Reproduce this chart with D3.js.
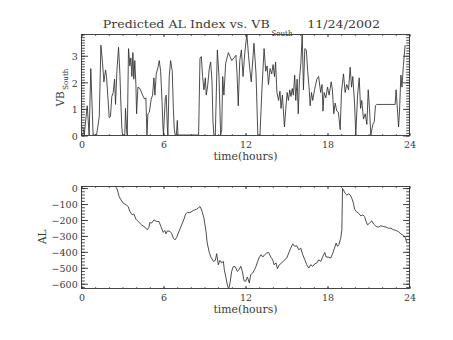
<!DOCTYPE html>
<html>
<head>
<meta charset="utf-8">
<script src="https://cdn.jsdelivr.net/npm/d3@7"></script>
<style>
  html, body { margin: 0; padding: 0; background: #fff; }
  svg { display: block; }
  text { font-family: "DejaVu Serif", "Liberation Serif", serif; fill: #3a3a3a; }
</style>
</head>
<body>
<svg id="chart" width="453" height="340"></svg>
<script>
// Solar wind driver VB_south (mV/m) and predicted AL index (nT), 24 Nov 2002
const vbTime = [0.0,0.1,0.2,0.42,0.56,0.68,0.85,1.1,1.22,1.3,1.42,1.54,1.64,1.76,1.83,1.92,2.03,2.12,2.22,2.32,2.42,2.49,2.59,2.71,2.81,2.88,2.95,3.0,3.17,3.22,3.3,3.35,3.44,3.54,3.61,3.69,3.76,3.83,3.9,3.98,4.03,4.13,4.27,4.47,4.62,4.71,4.79,4.86,4.96,5.1,5.2,5.3,5.37,5.47,5.6,5.69,5.79,5.89,5.96,6.0,6.13,6.2,6.28,6.32,6.42,6.52,6.64,6.72,6.79,6.86,6.94,7.01,7.06,8.57,8.67,8.77,8.86,8.96,9.06,9.13,9.23,9.35,9.45,9.55,9.62,9.69,9.79,9.94,10.06,10.18,10.26,10.33,10.42,10.55,10.75,10.87,11.0,11.15,11.3,11.38,11.47,11.58,11.7,11.82,11.95,12.1,12.22,12.3,12.42,12.62,12.77,12.9,13.06,13.2,13.36,13.48,13.58,13.68,13.8,13.92,14.02,14.12,14.2,14.3,14.42,14.52,14.6,14.7,14.85,14.95,15.05,15.14,15.24,15.33,15.42,15.5,15.6,15.68,15.78,15.86,15.95,16.05,16.15,16.24,16.34,16.45,16.55,16.65,16.73,16.83,16.92,17.05,17.22,17.35,17.5,17.6,17.67,17.75,17.88,18.0,18.12,18.27,18.36,18.46,18.56,18.68,18.8,18.93,19.02,19.17,19.29,19.41,19.54,19.66,19.76,19.85,19.98,20.07,20.2,20.32,20.42,20.51,20.63,20.76,20.88,20.98,21.07,21.17,21.32,21.42,21.51,21.6,22.95,23.02,23.2,23.27,23.37,23.45,23.55,23.68];
const vbValue = [0.25,0.3,0,1.1,0,2.5,0,0,0.4,0.7,3.38,2.7,2.0,2.45,2.2,1.5,0.65,0.7,1.45,1.6,2.1,1.15,2.4,3.3,2.3,1.2,0.3,0,0,1.0,0.2,0,3.25,2.6,2.9,2.2,3.1,2.1,2.8,1.9,0.8,1.8,1.75,1.5,1.35,1.4,0,0.8,0.85,1.35,1.5,2.15,1.5,2.3,2.55,2.8,2.4,1.3,0.3,0,1.4,1.5,0.3,0,2.2,2.8,2.4,1.0,0.2,0,0,0.55,0,0,2.9,2.95,2.2,1.7,2.15,1.5,1.85,2.5,2.75,2.0,0.5,0,0,3.2,2.2,0,0.2,2.2,1.5,2.7,3.1,2.95,2.8,2.9,3.0,2.3,1.1,2.8,3.2,2.2,3.1,3.8,3.0,2.55,2.0,3.45,2.3,0,0,1.7,3.25,2.4,2.6,1.9,2.5,2.3,2.65,2.2,2.75,1.6,1.3,1.65,1.0,1.5,0.3,1.0,1.6,1.3,1.7,1.45,1.75,1.5,2.25,1.3,2.1,0.8,2.1,2.7,3.8,1.7,3.25,3.2,2.4,1.8,1.1,1.6,1.3,1.7,2.1,2.2,1.6,1.9,0.9,1.6,1.4,1.8,1.5,2.0,1.7,0.8,1.2,0.9,0.85,0.2,1.6,2.3,1.6,1.9,1.7,2.55,1.8,2.2,1.2,0,1.5,2.15,1.0,1.3,0.6,0.8,0.4,1.7,1.0,0,0.4,0.5,1.1,1.15,1.15,1.7,0.3,0.9,2.25,1.8,2.6,3.38];

const alTime = [2.5,2.61,2.76,2.86,3.05,3.25,3.42,3.54,3.71,3.83,3.98,4.15,4.4,4.64,4.81,4.93,5.0,5.13,5.3,5.49,5.67,5.81,5.98,6.1,6.18,6.3,6.47,6.59,6.72,6.84,6.96,7.13,7.33,7.5,7.62,7.74,7.94,8.18,8.42,8.67,8.79,8.96,9.11,9.2,9.35,9.47,9.65,9.79,9.89,10.01,10.13,10.26,10.38,10.45,10.55,10.67,10.77,10.87,10.99,11.11,11.26,11.4,11.53,11.65,11.77,11.89,12.01,12.14,12.28,12.38,12.53,12.66,12.77,12.89,13.02,13.14,13.26,13.38,13.55,13.7,13.85,13.99,14.09,14.24,14.33,14.48,14.65,14.82,15.02,15.16,15.31,15.46,15.6,15.75,15.9,16.04,16.19,16.36,16.48,16.63,16.78,16.92,17.07,17.22,17.36,17.51,17.66,17.8,17.9,18.07,18.24,18.39,18.51,18.63,18.73,18.83,18.93,18.97,19.05,19.1,19.17,19.29,19.41,19.54,19.66,19.78,19.9,19.98,20.1,20.27,20.44,20.59,20.71,20.83,20.93,21.07,21.25,21.37,21.56,21.73,21.9,22.1,22.29,22.47,22.64,22.83,23.03,23.2,23.37,23.57,23.71,23.79];
const alValue = [8,-11,-57,-73,-98,-107,-120,-150,-171,-165,-198,-213,-234,-248,-265,-250,-219,-223,-203,-213,-213,-244,-281,-269,-290,-271,-275,-286,-317,-328,-313,-275,-234,-198,-165,-157,-157,-144,-136,-119,-140,-192,-275,-348,-407,-436,-463,-457,-415,-484,-457,-473,-463,-515,-557,-609,-640,-598,-525,-494,-498,-525,-515,-494,-525,-584,-588,-561,-598,-546,-536,-515,-494,-463,-436,-421,-436,-423,-411,-407,-436,-453,-484,-473,-509,-484,-473,-457,-442,-411,-380,-353,-369,-365,-390,-380,-421,-457,-484,-505,-484,-494,-478,-473,-453,-463,-432,-407,-436,-436,-442,-411,-380,-348,-369,-359,-328,-317,-265,-5,-15,-36,-46,-40,-46,-67,-98,-136,-150,-161,-178,-171,-182,-213,-234,-223,-209,-228,-244,-248,-240,-244,-248,-255,-255,-265,-269,-277,-290,-302,-317,-344];

const timeTicks = [0, 6, 12, 18, 24];
const vbTicks = [0, 1, 2, 3];
const alTicks = [0, -100, -200, -300, -400, -500, -600];

const svg = d3.select("#chart");
const left = 81.5, right = 409.5;

const x = d3.scaleLinear().domain([0, 24]).range([left, right]);
const minorTime = d3.range(0, 25, 1);

const panels = [
  {
    top: 34, bottom: 135,
    domain: [0, 3.8],
    ticks: vbTicks,
    minor: d3.range(0, 3.8001, 0.1).map(v => +v.toFixed(1)),
    t: vbTime, v: vbValue, id: "vb"
  },
  {
    top: 186, bottom: 288,
    domain: [-630, 10],
    ticks: alTicks,
    minor: d3.range(-620, 1, 20),
    t: alTime, v: alValue, id: "al"
  }
];

const ink = "#333";
const yMajor = 6.5, yMinor = 3.3, xMajor = 2.5, xMinor = 1.3;

function styleAxis(g) {
  g.select(".domain").remove();
  g.selectAll("line").attr("stroke", ink).attr("stroke-width", 0.9);
  g.selectAll("text").style("font-family", '"DejaVu Serif", serif').attr("fill", "#3a3a3a");
}

panels.forEach(p => {
  const y = d3.scaleLinear().domain(p.domain).range([p.bottom, p.top]);
  p.y = y;

  // clip region for the data trace
  svg.append("clipPath").attr("id", "clip-" + p.id)
    .append("rect").attr("x", left).attr("y", p.top)
    .attr("width", right - left).attr("height", p.bottom - p.top);

  // trace
  const line = d3.line().x((d, i) => x(p.t[i])).y((d, i) => y(p.v[i]));
  svg.append("path")
    .datum(p.v)
    .attr("clip-path", `url(#clip-${p.id})`)
    .attr("fill", "none")
    .attr("stroke", "#2e2e2e")
    .attr("stroke-width", 0.85)
    .attr("stroke-linejoin", "miter")
    .attr("d", line);

  // frame
  svg.append("rect")
    .attr("x", left).attr("y", p.top + 0.5)
    .attr("width", right - left).attr("height", p.bottom - p.top)
    .attr("fill", "none").attr("stroke", ink).attr("stroke-width", 0.9);

  // inward tick marks on all four sides
  const bx = p.bottom + 0.5, tx = p.top + 0.5;
  svg.append("g").attr("transform", `translate(0,${bx})`)
    .call(d3.axisBottom(x).tickValues(minorTime).tickSize(-xMinor).tickSizeOuter(0).tickFormat(""))
    .call(styleAxis);
  svg.append("g").attr("transform", `translate(0,${bx})`)
    .call(d3.axisBottom(x).tickValues(timeTicks).tickSize(-xMajor).tickSizeOuter(0).tickFormat(""))
    .call(styleAxis);
  svg.append("g").attr("transform", `translate(0,${tx})`)
    .call(d3.axisTop(x).tickValues(minorTime).tickSize(-xMinor).tickSizeOuter(0).tickFormat(""))
    .call(styleAxis);
  svg.append("g").attr("transform", `translate(0,${tx})`)
    .call(d3.axisTop(x).tickValues(timeTicks).tickSize(-xMajor).tickSizeOuter(0).tickFormat(""))
    .call(styleAxis);

  svg.append("g").attr("transform", `translate(${left},0.5)`)
    .call(d3.axisLeft(y).tickValues(p.minor).tickSize(-yMinor).tickSizeOuter(0).tickFormat(""))
    .call(styleAxis);
  svg.append("g").attr("transform", `translate(${left},0.5)`)
    .call(d3.axisLeft(y).tickValues(p.ticks).tickSize(-yMajor).tickSizeOuter(0).tickFormat(""))
    .call(styleAxis);
  svg.append("g").attr("transform", `translate(${right},0.5)`)
    .call(d3.axisRight(y).tickValues(p.minor).tickSize(-yMinor).tickSizeOuter(0).tickFormat(""))
    .call(styleAxis);
  svg.append("g").attr("transform", `translate(${right},0.5)`)
    .call(d3.axisRight(y).tickValues(p.ticks).tickSize(-yMajor).tickSizeOuter(0).tickFormat(""))
    .call(styleAxis);

  // tick labels
  const xl = svg.append("g").attr("transform", `translate(0,${p.bottom})`)
    .call(d3.axisBottom(x).tickValues(timeTicks).tickSize(0).tickSizeOuter(0).tickFormat(d3.format("d")))
    .call(styleAxis);
  xl.selectAll("line").remove();
  xl.selectAll("text").attr("y", 12.5).attr("dy", null).attr("font-size", 9.5);

  const yl = svg.append("g").attr("transform", `translate(${left},0)`)
    .call(d3.axisLeft(y).tickValues(p.ticks).tickSize(0).tickPadding(3.8).tickSizeOuter(0).tickFormat(d3.format("d")))
    .call(styleAxis);
  yl.selectAll("line").remove();
  yl.selectAll("text").attr("dy", "0.45em").attr("font-size", 9.5);

  // x axis title
  svg.append("text")
    .attr("x", (left + right) / 2).attr("y", p.bottom + 25)
    .attr("text-anchor", "middle")
    .attr("font-size", 10.5)
    .attr("textLength", 64).attr("lengthAdjust", "spacingAndGlyphs")
    .text("time(hours)");
});

// y axis titles (rotated)
const vbLab = svg.append("g").attr("transform", "translate(63.5,106.5) rotate(-90)");
vbLab.append("text").attr("x", 0).attr("y", 0).attr("font-size", 10.5).text("VB");
vbLab.append("text").attr("x", 16.5).attr("y", 4).attr("font-size", 7.2).text("South");

const pAL = panels[1];
svg.append("text")
  .attr("transform", `translate(45.5,${(pAL.top + pAL.bottom) / 2 + 7}) rotate(-90)`)
  .attr("font-size", 10.5).text("AL");

// title
svg.append("text").attr("x", 102.7).attr("y", 28.3).attr("font-size", 11.5)
  .attr("textLength", 167).attr("lengthAdjust", "spacingAndGlyphs")
  .text("Predicted AL Index vs. VB");
svg.append("text").attr("x", 271.5).attr("y", 36).attr("font-size", 7.8)
  .attr("textLength", 21).attr("lengthAdjust", "spacingAndGlyphs")
  .text("South");
svg.append("text").attr("x", 307.3).attr("y", 28.3).attr("font-size", 11.5)
  .attr("textLength", 72.7).attr("lengthAdjust", "spacingAndGlyphs")
  .text("11/24/2002");
</script>
</body>
</html>
